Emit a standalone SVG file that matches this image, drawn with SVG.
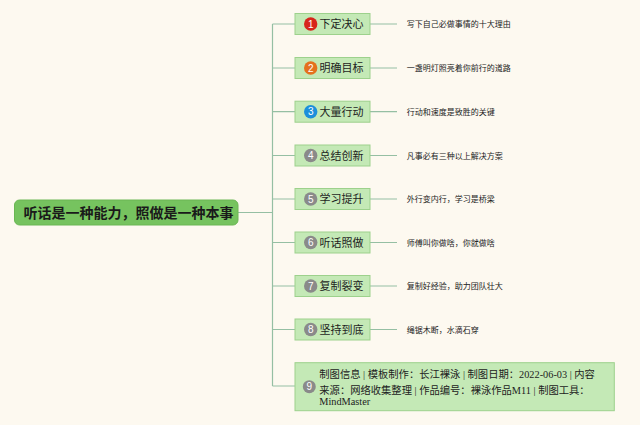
<svg xmlns="http://www.w3.org/2000/svg" width="640" height="425" viewBox="0 0 640 425">
<defs>
<style>
.bg{fill:#FDF9F0}
.ln{stroke:#95BFA3;stroke-width:1.2;fill:none}
.root{fill:#76C35F;stroke:#6AB654;stroke-width:1}
.rt{font-family:"Noto Sans CJK SC","Liberation Sans",sans-serif;font-size:14px;font-weight:bold;fill:#1A1A1A}
.nd{fill:#C4E9B6;stroke:#9DD18C;stroke-width:1}
.nt{font-family:"Noto Sans CJK SC","Liberation Sans",sans-serif;font-size:11px;fill:#1E1E1E}
.dt{font-family:"Noto Sans CJK SC","Liberation Sans",sans-serif;font-size:8px;fill:#222}
.bn{font-family:"Liberation Sans",sans-serif;font-size:10px;fill:#FFFFFF;text-anchor:middle}
.it{font-family:"Liberation Serif","Noto Sans CJK SC",serif;font-size:10.3px;fill:#222}
.gray{fill:#8A8A8A}
</style>
</defs>
<rect class="bg" x="0" y="0" width="640" height="425"/>
<g id="connectors">
<path class="ln" d="M238 212.5H272.5M272.5 24V386"/>
<path class="ln" d="M272.5 24H295M272.5 68H295M272.5 111.7H295M272.5 155.5H295M272.5 199H295M272.5 242.5H295M272.5 286H295M272.5 329.5H295M272.5 386H295"/>
<path class="ln" d="M370 24H397M370 68H397M370 111.7H397M370 155.5H397M370 199H397M370 242.5H397M370 286H397M370 329.5H397"/>
</g>
<g id="root">
<rect class="root" x="14.5" y="200" width="223.5" height="25" rx="5"/>
<text class="rt" x="23.5" y="217.6">听话是一种能力，照做是一种本事</text>
</g>
<g id="n1">
<rect class="nd" x="295" y="13.5" width="75" height="21"/>
<circle cx="310.7" cy="24" r="6.7" fill="#D7251C"/>
<text class="bn" x="310.7" y="27.6">1</text>
<text class="nt" x="319.5" y="28">下定决心</text>
</g>
<g id="d1"><text class="dt" x="406.7" y="27">写下自己必做事情的十大理由</text></g>
<g id="n2">
<rect class="nd" x="295" y="57.5" width="75" height="21"/>
<circle cx="310.7" cy="68" r="6.7" fill="#E4711E"/>
<text class="bn" x="310.7" y="71.6">2</text>
<text class="nt" x="319.5" y="72">明确目标</text>
</g>
<g id="d2"><text class="dt" x="406.7" y="71">一盏明灯照亮着你前行的道路</text></g>
<g id="n3">
<rect class="nd" x="295" y="101.2" width="75" height="21"/>
<circle cx="310.7" cy="111.7" r="6.7" fill="#1C8FDB"/>
<text class="bn" x="310.7" y="115.3">3</text>
<text class="nt" x="319.5" y="115.7">大量行动</text>
</g>
<g id="d3"><text class="dt" x="406.7" y="114.7">行动和速度是致胜的关键</text></g>
<g id="n4">
<rect class="nd" x="295" y="145" width="75" height="21"/>
<circle class="gray" cx="310.7" cy="155.5" r="6.7"/>
<text class="bn" x="310.7" y="159.1">4</text>
<text class="nt" x="319.5" y="159.5">总结创新</text>
</g>
<g id="d4"><text class="dt" x="406.7" y="158.5">凡事必有三种以上解决方案</text></g>
<g id="n5">
<rect class="nd" x="295" y="188.5" width="75" height="21"/>
<circle class="gray" cx="310.7" cy="199" r="6.7"/>
<text class="bn" x="310.7" y="202.6">5</text>
<text class="nt" x="319.5" y="203">学习提升</text>
</g>
<g id="d5"><text class="dt" x="406.7" y="202">外行变内行，学习是桥梁</text></g>
<g id="n6">
<rect class="nd" x="295" y="232" width="75" height="21"/>
<circle class="gray" cx="310.7" cy="242.5" r="6.7"/>
<text class="bn" x="310.7" y="246.1">6</text>
<text class="nt" x="319.5" y="246.5">听话照做</text>
</g>
<g id="d6"><text class="dt" x="406.7" y="245.5">师傅叫你做啥，你就做啥</text></g>
<g id="n7">
<rect class="nd" x="295" y="275.5" width="75" height="21"/>
<circle class="gray" cx="310.7" cy="286" r="6.7"/>
<text class="bn" x="310.7" y="289.6">7</text>
<text class="nt" x="319.5" y="290">复制裂变</text>
</g>
<g id="d7"><text class="dt" x="406.7" y="289">复制好经验，助力团队壮大</text></g>
<g id="n8">
<rect class="nd" x="295" y="319" width="75" height="21"/>
<circle class="gray" cx="310.7" cy="329.5" r="6.7"/>
<text class="bn" x="310.7" y="333.1">8</text>
<text class="nt" x="319.5" y="333.5">坚持到底</text>
</g>
<g id="d8"><text class="dt" x="406.7" y="332.5">绳锯木断，水滴石穿</text></g>
<g id="n9">
<rect class="nd" x="295" y="362.7" width="319.3" height="48"/>
<circle class="gray" cx="309.3" cy="386.7" r="6.5"/>
<text class="bn" x="309.3" y="390.3">9</text>
<text class="it" x="319.3" y="378">制图信息 | 模板制作：长江裸泳 | 制图日期：2022-06-03 | 内容</text>
<text class="it" x="319.3" y="394">来源：网络收集整理 | 作品编号：裸泳作品M11 | 制图工具：</text>
<text class="it" x="319.3" y="405">MindMaster</text>
</g>
</svg>
